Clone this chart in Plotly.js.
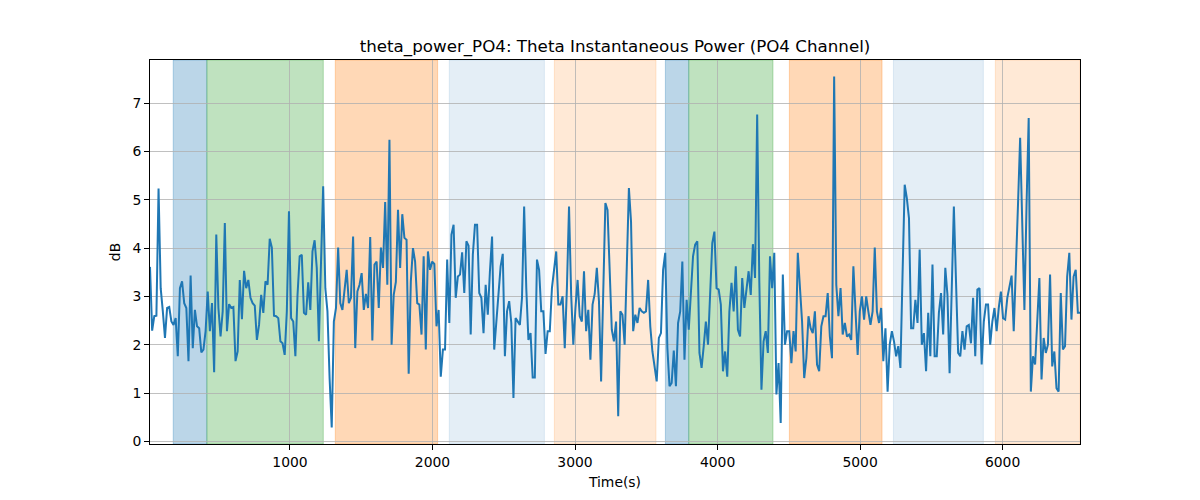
<!DOCTYPE html>
<html>
<head>
<meta charset="utf-8">
<script src="https://cdn.plot.ly/plotly-3.0.1.min.js"></script>
<style>html,body{margin:0;padding:0;background:#fff}#chart{width:1200px;height:500px}</style>
</head>
<body>
<div id="chart"></div>
<script>
// Sampling of the signal (seconds)
const startTime = 18;
const sampleStep = 15;

// Theta instantaneous power (dB)
const powerDb = [
3.61,2.29,2.59,2.60,5.23,3.17,2.69,2.14,2.76,2.78,
2.48,2.41,2.55,1.76,3.17,3.31,2.86,2.76,1.66,3.43,
1.93,2.72,2.38,2.34,1.84,1.90,2.28,3.10,2.28,2.86,
1.43,4.28,2.76,2.17,2.69,4.52,2.28,2.84,2.76,2.78,
1.66,1.86,3.34,2.53,3.53,3.17,3.34,2.97,2.86,2.81,
2.10,2.41,3.03,2.66,3.31,3.24,4.19,4.01,2.60,2.59,
2.55,2.07,2.03,1.79,2.69,4.76,2.55,2.48,1.76,3.03,
3.83,3.86,2.66,2.62,3.29,2.72,3.93,4.16,3.59,2.07,
3.72,5.28,3.17,2.69,1.31,0.29,2.48,2.76,4.01,2.86,
2.72,3.17,3.55,2.86,2.97,4.24,1.93,3.10,3.24,3.48,
2.72,3.05,2.76,4.23,2.09,3.66,3.72,2.76,4.01,3.59,
4.95,3.24,6.24,2.00,3.03,3.30,4.79,3.59,4.70,4.21,
4.17,1.40,3.31,4.00,3.72,2.86,2.83,2.21,3.83,1.90,
3.93,3.55,3.72,3.67,2.38,2.72,1.34,1.90,1.90,3.76,
2.45,4.28,4.48,2.97,3.41,3.45,3.91,3.07,4.14,4.05,
2.21,3.86,4.48,4.48,3.07,2.97,2.24,3.24,2.62,3.52,
4.24,1.90,2.48,3.03,3.62,3.88,1.76,2.69,2.90,2.45,
0.90,2.55,2.48,2.41,2.97,4.86,3.17,2.10,2.24,1.32,
1.32,3.76,3.55,2.69,2.69,1.81,2.28,2.28,3.17,3.59,
3.93,2.83,2.83,3.00,1.93,3.17,4.86,3.03,2.00,2.76,
3.34,2.59,2.48,3.52,2.28,2.72,1.69,2.83,3.05,3.59,
2.90,1.24,3.45,4.93,4.79,3.59,2.31,2.07,2.48,0.52,
2.69,2.62,2.00,3.59,5.24,4.55,2.28,2.62,2.45,2.76,
2.69,2.66,2.69,3.34,2.38,1.86,1.59,1.24,2.14,2.24,
3.55,3.90,1.93,1.14,1.21,1.88,1.14,2.45,2.69,3.72,
1.69,2.93,2.31,3.17,3.83,4.07,4.14,1.83,1.52,1.97,
2.48,2.00,3.17,4.10,4.34,3.17,3.14,2.83,1.45,1.86,
1.34,2.69,3.28,2.69,3.62,2.31,2.17,3.38,2.76,3.17,
3.52,3.03,4.08,3.38,6.76,3.31,1.07,2.07,2.28,1.83,
3.83,3.17,3.90,0.97,1.62,0.38,3.45,2.00,2.28,2.28,
1.62,2.28,1.86,3.90,3.17,2.48,1.31,1.72,2.59,2.34,
2.24,2.69,1.59,1.45,2.38,2.59,2.59,3.07,2.17,1.72,
7.55,3.24,2.59,3.17,2.21,2.45,2.17,2.21,2.10,3.62,
2.69,1.79,2.69,3.00,2.52,3.00,2.69,2.41,2.69,4.01,
2.69,2.45,2.76,1.66,2.34,1.03,2.00,2.28,2.07,1.76,
1.97,1.52,3.45,5.31,5.03,4.62,2.34,2.34,2.93,2.45,
3.97,2.00,2.24,1.45,2.66,1.76,3.66,1.76,1.76,2.66,
3.07,2.21,3.59,3.03,1.41,3.17,4.86,3.31,1.83,1.76,
2.28,1.90,2.38,2.41,2.03,2.97,1.76,3.14,3.17,1.59,
2.48,2.83,2.83,2.00,2.48,2.76,2.28,2.76,3.10,2.55,
2.52,2.97,3.24,3.43,2.28,3.41,4.90,6.28,4.41,2.72,
4.90,6.69,1.03,1.76,1.59,2.48,3.38,1.28,2.14,1.83,
2.00,3.45,1.55,1.86,1.10,1.03,3.07,1.90,1.97,3.41,
3.90,2.52,3.41,3.55,2.66,2.66
];
const timeSec = powerDb.map((_, i) => startTime + i * sampleStep);

// Shaded intervals (seconds) and their kind
const spanStart = [181, 417, 1318, 2118, 2855, 3634, 3798, 4504, 5234, 5949];
const spanEnd   = [417, 1234, 2036, 2785, 3568, 3798, 4389, 5154, 5865, 6543];
const spanKind  = ['blue','green','orange','lightblue','lightorange','blue','green','orange','lightblue','lightorange'];

// Tick values
const xTicks = [1000, 2000, 3000, 4000, 5000, 6000];
const yTicks = [0, 1, 2, 3, 4, 5, 6, 7];

const kindColor = {
  blue: 'rgba(31,119,180,0.3)',
  green: 'rgba(44,160,44,0.3)',
  orange: 'rgba(255,127,14,0.3)',
  lightblue: 'rgba(31,119,180,0.12)',
  lightorange: 'rgba(255,127,14,0.17)'
};

const shapes = spanStart.map((s, k) => ({
  type: 'rect', xref: 'x', yref: 'paper', x0: s, x1: spanEnd[k], y0: 0, y1: 1,
  fillcolor: kindColor[spanKind[k]],
  line: {color: kindColor[spanKind[k]], width: 1},
  layer: 'below'
}));

const font = 'DejaVu Sans, sans-serif';

const trace = {
  x: timeSec, y: powerDb, type: 'scatter', mode: 'lines',
  line: {color: '#1f77b4', width: 2}, hoverinfo: 'skip'
};

const layout = {
  width: 1200, height: 500,
  margin: {l: 150, r: 120, t: 60, b: 56, pad: 0},
  paper_bgcolor: '#ffffff', plot_bgcolor: '#ffffff',
  font: {family: font, color: '#000', size: 13.9},
  showlegend: false,
  title: {
    text: 'theta_power_PO4: Theta Instantaneous Power (PO4 Channel)',
    font: {family: font, size: 16.7, color: '#000'},
    x: 0.5, xref: 'paper', xanchor: 'center',
    y: 1 - 46 / 500, yref: 'container', yanchor: 'middle'
  },
  xaxis: {
    range: [18, 6543], tickvals: xTicks, ticktext: xTicks.map(String),
    showgrid: true, gridcolor: '#b0b0b0', gridwidth: 0.8,
    zeroline: false, showline: true, mirror: true, linecolor: '#000', linewidth: 1,
    ticks: 'outside', ticklen: 5, tickcolor: '#000', tickwidth: 1,
    tickfont: {family: font, size: 13.9, color: '#000'},
    title: {text: 'Time(s)', font: {family: font, size: 13.9, color: '#000'}, standoff: 8}
  },
  yaxis: {
    range: [-0.054, 7.89], tickvals: yTicks, ticktext: yTicks.map(String),
    showgrid: true, gridcolor: '#b0b0b0', gridwidth: 0.8,
    zeroline: false, showline: true, mirror: true, linecolor: '#000', linewidth: 1,
    ticks: 'outside', ticklen: 5, tickcolor: '#000', tickwidth: 1,
    tickfont: {family: font, size: 13.9, color: '#000'},
    title: {text: 'dB', font: {family: font, size: 13.9, color: '#000'}, standoff: 8}
  },
  shapes: shapes
};

Plotly.newPlot('chart', [trace], layout, {staticPlot: true, displayModeBar: false});
</script>
</body>
</html>
